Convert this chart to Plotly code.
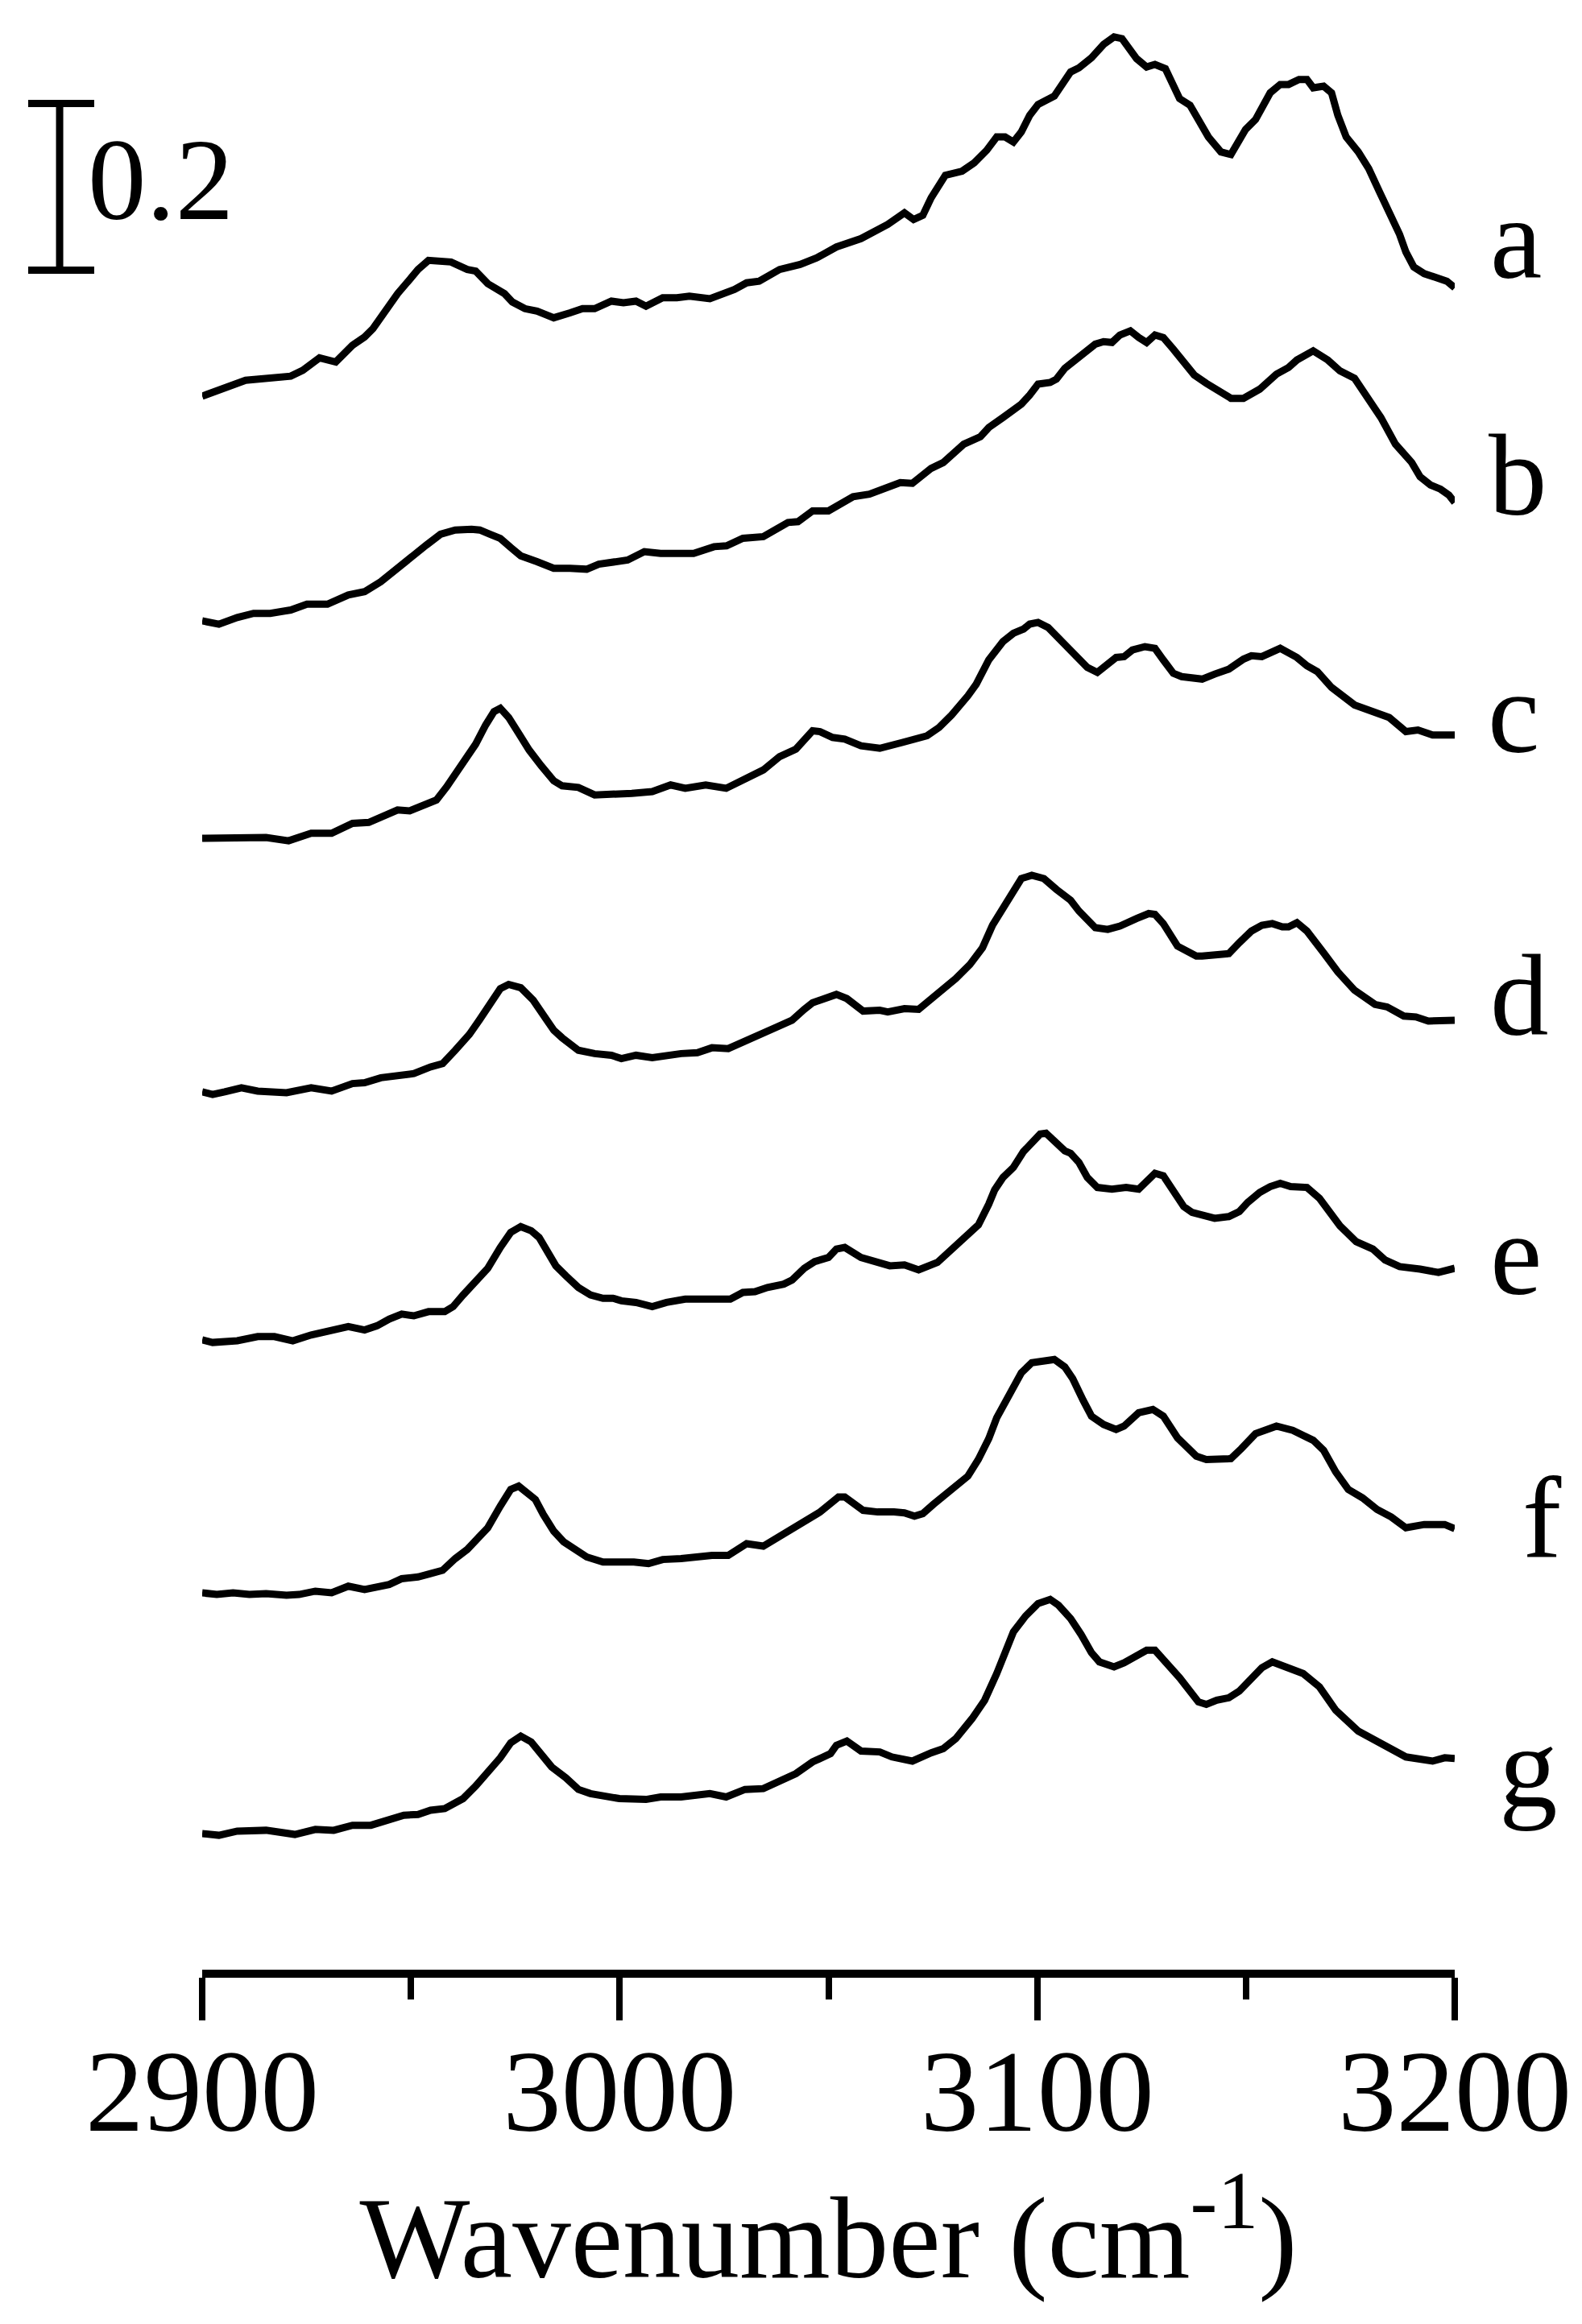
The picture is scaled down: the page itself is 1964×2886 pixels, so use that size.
import plotly.graph_objects as go

# ---------------- data ----------------
labels = ["a", "b", "c", "d", "e", "f", "g"]
offsets = [1.8928, 1.6232, 1.3623, 1.0580, 0.7604, 0.4570, 0.1681]
scale_bar_value = 0.2
x_ticks = [2900, 3000, 3100, 3200]

a_x = [2900, 2905.4, 2910.4, 2921.2, 2924.1, 2928.1, 2932.0, 2936.0, 2938.9, 2940.9, 2943.8, 2946.8, 2949.7, 2951.7, 2954.2, 2959.6, 2963.5, 2965.5, 2968.4, 2972.4, 2974.3, 2977.3, 2980.2, 2984.2, 2988.1, 2991.1, 2994.0, 2998.0, 3000.9, 3003.9, 3006.3, 3010.3, 3013.7, 3016.7, 3021.6, 3027.5, 3030.4, 3033.4, 3038.3, 3043.2, 3047.2, 3051.9, 3057.8, 3060.8, 3064.2, 3068.2, 3070.4, 3072.6, 3074.6, 3078.0, 3082.0, 3084.9, 3087.9, 3090.3, 3092.3, 3094.3, 3096.2, 3098.2, 3100.2, 3104.1, 3108.0, 3110.0, 3113.0, 3115.9, 3118.4, 3120.3, 3123.8, 3126.2, 3128.2, 3130.7, 3134.1, 3136.6, 3139.0, 3141.0, 3144.0, 3146.4, 3149.9, 3152.3, 3155.8, 3158.2, 3160.2, 3162.7, 3164.6, 3166.1, 3168.6, 3170.5, 3172.0, 3174.0, 3176.9, 3179.4, 3181.9, 3184.3, 3186.8, 3188.3, 3190.2, 3192.7, 3195.6, 3198.1, 3200]
a_y = [0.000, 0.009, 0.019, 0.024, 0.031, 0.046, 0.041, 0.061, 0.071, 0.081, 0.103, 0.123, 0.140, 0.152, 0.163, 0.161, 0.152, 0.150, 0.135, 0.123, 0.113, 0.105, 0.102, 0.094, 0.100, 0.105, 0.105, 0.114, 0.112, 0.114, 0.108, 0.118, 0.118, 0.120, 0.117, 0.128, 0.136, 0.138, 0.152, 0.158, 0.166, 0.179, 0.189, 0.197, 0.206, 0.220, 0.212, 0.217, 0.238, 0.265, 0.270, 0.280, 0.295, 0.311, 0.311, 0.305, 0.317, 0.337, 0.350, 0.360, 0.389, 0.394, 0.406, 0.422, 0.431, 0.429, 0.405, 0.395, 0.398, 0.393, 0.357, 0.349, 0.330, 0.311, 0.293, 0.290, 0.320, 0.332, 0.364, 0.374, 0.374, 0.380, 0.380, 0.370, 0.372, 0.364, 0.337, 0.311, 0.293, 0.273, 0.246, 0.221, 0.194, 0.173, 0.155, 0.147, 0.143, 0.138, 0.130]

b_x = [2900, 2904.0, 2908.4, 2912.3, 2916.3, 2921.2, 2925.1, 2930.0, 2935.0, 2938.9, 2942.8, 2946.8, 2950.7, 2953.7, 2957.1, 2960.6, 2964.5, 2966.5, 2968.9, 2971.4, 2973.9, 2976.3, 2980.2, 2982.2, 2984.2, 2988.1, 2992.1, 2995.0, 2998.0, 3001.9, 3005.9, 3009.8, 3017.7, 3022.6, 3025.6, 3029.5, 3034.4, 3037.3, 3040.3, 3042.7, 3046.2, 3050.0, 3052.9, 3055.9, 3059.8, 3062.8, 3065.7, 3067.2, 3070.1, 3072.6, 3074.6, 3077.5, 3080.0, 3082.4, 3086.4, 3088.4, 3091.8, 3096.2, 3098.2, 3100.2, 3103.1, 3104.6, 3106.6, 3109.0, 3112.0, 3113.9, 3115.9, 3117.9, 3119.8, 3122.3, 3124.3, 3126.2, 3128.2, 3130.2, 3132.6, 3135.1, 3137.6, 3140.5, 3144.0, 3146.4, 3149.4, 3153.3, 3157.3, 3160.2, 3162.2, 3166.1, 3169.6, 3172.5, 3176.0, 3178.9, 3182.3, 3185.8, 3189.7, 3191.7, 3194.2, 3196.6, 3198.6, 3200]
b_y = [0.000, -0.004, 0.004, 0.009, 0.009, 0.013, 0.020, 0.020, 0.031, 0.035, 0.047, 0.064, 0.078, 0.091, 0.104, 0.109, 0.110, 0.109, 0.104, 0.099, 0.088, 0.078, 0.071, 0.068, 0.063, 0.063, 0.062, 0.068, 0.071, 0.073, 0.083, 0.081, 0.081, 0.089, 0.090, 0.099, 0.101, 0.110, 0.118, 0.119, 0.132, 0.132, 0.141, 0.149, 0.152, 0.158, 0.164, 0.166, 0.165, 0.174, 0.183, 0.190, 0.201, 0.212, 0.221, 0.232, 0.244, 0.260, 0.271, 0.284, 0.286, 0.290, 0.303, 0.313, 0.324, 0.332, 0.335, 0.334, 0.343, 0.348, 0.340, 0.334, 0.343, 0.340, 0.326, 0.311, 0.295, 0.285, 0.273, 0.267, 0.267, 0.278, 0.296, 0.304, 0.313, 0.324, 0.313, 0.300, 0.291, 0.271, 0.244, 0.212, 0.190, 0.173, 0.163, 0.158, 0.151, 0.142]

c_x = [2900, 2905.4, 2908.4, 2915.3, 2920.7, 2926.1, 2931.0, 2936.0, 2939.9, 2944.8, 2946.8, 2949.7, 2952.7, 2956.1, 2958.6, 2960.6, 2963.5, 2965.5, 2967.9, 2969.9, 2971.4, 2973.4, 2975.8, 2978.3, 2981.2, 2984.2, 2986.2, 2990.1, 2994.0, 2999.9, 3002.9, 3007.8, 3012.2, 3015.7, 3020.6, 3025.5, 3029.5, 3034.4, 3038.3, 3042.2, 3046.2, 3048.0, 3051.0, 3053.9, 3057.8, 3062.3, 3067.7, 3073.6, 3076.5, 3079.5, 3083.4, 3085.4, 3088.4, 3091.8, 3094.3, 3096.7, 3098.2, 3100.2, 3102.6, 3105.1, 3110.0, 3112.0, 3114.4, 3116.9, 3118.9, 3120.8, 3122.8, 3125.8, 3128.2, 3130.2, 3132.6, 3134.6, 3139.5, 3142.5, 3145.9, 3149.4, 3151.3, 3153.8, 3158.2, 3162.2, 3164.6, 3167.1, 3170.5, 3176.0, 3179.9, 3184.3, 3188.3, 3191.2, 3194.7, 3200]
c_y = [0.000, 0.000, 0.002, 0.001, -0.003, 0.006, 0.006, 0.018, 0.019, 0.029, 0.034, 0.033, 0.039, 0.046, 0.062, 0.077, 0.097, 0.113, 0.136, 0.152, 0.156, 0.145, 0.126, 0.106, 0.087, 0.069, 0.063, 0.061, 0.052, 0.052, 0.054, 0.056, 0.064, 0.060, 0.064, 0.060, 0.069, 0.082, 0.098, 0.107, 0.129, 0.128, 0.121, 0.119, 0.111, 0.108, 0.115, 0.123, 0.133, 0.148, 0.171, 0.185, 0.214, 0.236, 0.246, 0.251, 0.257, 0.259, 0.253, 0.240, 0.217, 0.205, 0.199, 0.210, 0.217, 0.218, 0.226, 0.230, 0.228, 0.214, 0.198, 0.194, 0.191, 0.197, 0.203, 0.215, 0.219, 0.218, 0.228, 0.217, 0.207, 0.200, 0.181, 0.160, 0.154, 0.145, 0.128, 0.130, 0.124, 0.124]

d_x = [2900, 2902.5, 2905.4, 2909.4, 2913.3, 2920.2, 2926.1, 2931.0, 2936.0, 2938.9, 2942.8, 2946.8, 2950.7, 2954.7, 2957.6, 2960.6, 2964.0, 2966.5, 2969.4, 2971.4, 2973.4, 2976.3, 2979.3, 2981.2, 2984.2, 2986.2, 2990.1, 2994.0, 2998.0, 3000.4, 3003.9, 3007.8, 3010.8, 3014.7, 3018.6, 3022.1, 3026.0, 3030.4, 3034.4, 3038.3, 3041.3, 3044.2, 3046.2, 3051.9, 3054.4, 3058.3, 3062.3, 3064.2, 3068.2, 3071.6, 3075.1, 3077.5, 3080.5, 3083.9, 3086.9, 3089.3, 3091.8, 3094.3, 3096.2, 3098.7, 3101.6, 3104.6, 3108.0, 3110.0, 3113.9, 3116.9, 3119.8, 3123.8, 3126.7, 3128.2, 3130.2, 3133.6, 3138.1, 3139.5, 3142.5, 3145.9, 3148.4, 3151.3, 3153.8, 3156.3, 3158.7, 3160.2, 3162.2, 3164.6, 3168.6, 3172.0, 3176.0, 3180.9, 3183.8, 3187.8, 3190.7, 3193.7, 3200]
d_y = [0.000, -0.003, 0.000, 0.005, 0.001, -0.001, 0.005, 0.001, 0.010, 0.011, 0.017, 0.020, 0.022, 0.030, 0.034, 0.050, 0.069, 0.087, 0.108, 0.124, 0.129, 0.125, 0.110, 0.095, 0.074, 0.065, 0.050, 0.046, 0.044, 0.040, 0.044, 0.041, 0.044, 0.046, 0.047, 0.053, 0.052, 0.062, 0.069, 0.079, 0.086, 0.099, 0.107, 0.117, 0.112, 0.097, 0.098, 0.096, 0.100, 0.099, 0.113, 0.122, 0.136, 0.153, 0.173, 0.200, 0.220, 0.242, 0.256, 0.260, 0.256, 0.243, 0.230, 0.217, 0.197, 0.195, 0.199, 0.208, 0.214, 0.213, 0.202, 0.175, 0.163, 0.163, 0.165, 0.166, 0.179, 0.193, 0.200, 0.202, 0.198, 0.198, 0.203, 0.193, 0.167, 0.144, 0.122, 0.105, 0.102, 0.091, 0.090, 0.085, 0.086]

e_x = [2900, 2902.5, 2908.4, 2913.3, 2917.3, 2921.7, 2926.1, 2930.5, 2935.0, 2938.9, 2941.9, 2944.8, 2947.8, 2950.7, 2954.2, 2958.1, 2960.1, 2962.5, 2965.5, 2968.4, 2971.4, 2973.9, 2976.3, 2978.8, 2980.7, 2982.2, 2984.7, 2987.1, 2990.1, 2993.0, 2996.0, 2998.4, 3000.4, 3003.9, 3007.8, 3011.2, 3015.7, 3020.6, 3023.6, 3026.5, 3029.5, 3032.4, 3035.4, 3039.3, 3041.3, 3044.2, 3046.7, 3050.0, 3051.9, 3053.9, 3057.8, 3060.8, 3062.8, 3064.7, 3068.2, 3071.6, 3076.1, 3079.5, 3083.4, 3085.9, 3088.4, 3089.8, 3091.8, 3094.3, 3096.7, 3099.2, 3100.7, 3102.1, 3104.1, 3106.6, 3108.0, 3110.0, 3112.0, 3114.4, 3117.9, 3121.3, 3124.3, 3126.7, 3128.2, 3130.2, 3132.6, 3135.1, 3137.1, 3142.5, 3145.9, 3148.4, 3150.4, 3153.3, 3155.8, 3158.2, 3160.7, 3164.6, 3167.6, 3170.1, 3172.5, 3176.4, 3180.4, 3183.3, 3186.8, 3191.7, 3196.1, 3200]
e_y = [0.000, -0.003, -0.001, 0.004, 0.004, -0.001, 0.006, 0.010, 0.016, 0.012, 0.017, 0.025, 0.031, 0.029, 0.034, 0.034, 0.040, 0.054, 0.070, 0.086, 0.111, 0.129, 0.136, 0.131, 0.123, 0.109, 0.089, 0.077, 0.063, 0.054, 0.050, 0.050, 0.047, 0.045, 0.040, 0.045, 0.049, 0.049, 0.048, 0.049, 0.057, 0.058, 0.063, 0.067, 0.072, 0.086, 0.094, 0.099, 0.109, 0.111, 0.099, 0.095, 0.093, 0.089, 0.090, 0.084, 0.093, 0.109, 0.126, 0.138, 0.163, 0.180, 0.195, 0.207, 0.226, 0.241, 0.247, 0.248, 0.238, 0.227, 0.224, 0.213, 0.195, 0.183, 0.181, 0.183, 0.181, 0.192, 0.200, 0.197, 0.179, 0.160, 0.153, 0.146, 0.148, 0.154, 0.165, 0.177, 0.184, 0.188, 0.184, 0.183, 0.170, 0.154, 0.137, 0.118, 0.109, 0.096, 0.088, 0.085, 0.081, 0.086]

f_x = [2900, 2903.5, 2907.4, 2911.3, 2915.3, 2920.2, 2923.2, 2927.1, 2931.0, 2933.0, 2935.0, 2938.9, 2942.8, 2944.8, 2947.8, 2951.7, 2954.7, 2957.6, 2960.6, 2963.5, 2966.5, 2968.4, 2971.4, 2973.9, 2975.8, 2977.8, 2979.8, 2981.7, 2984.2, 2986.6, 2989.1, 2992.1, 2996.0, 2999.9, 3003.4, 3006.9, 3010.3, 3014.7, 3017.7, 3022.1, 3026.0, 3028.5, 3030.4, 3034.4, 3038.3, 3042.2, 3046.2, 3048.0, 3052.4, 3053.9, 3058.3, 3061.8, 3065.7, 3068.2, 3070.6, 3072.6, 3075.1, 3078.5, 3083.4, 3085.9, 3088.4, 3090.3, 3093.3, 3096.2, 3098.7, 3101.6, 3104.1, 3106.6, 3108.5, 3111.0, 3113.0, 3115.9, 3118.9, 3120.8, 3124.3, 3127.7, 3130.2, 3133.6, 3138.1, 3140.5, 3146.4, 3148.9, 3152.3, 3157.3, 3161.2, 3166.1, 3168.6, 3171.5, 3174.5, 3177.9, 3181.4, 3184.8, 3188.3, 3192.7, 3197.6, 3200]
f_y = [0.000, -0.002, 0.000, -0.002, -0.001, -0.003, -0.002, 0.002, 0.000, 0.003, 0.008, 0.004, 0.009, 0.010, 0.017, 0.019, 0.023, 0.027, 0.041, 0.052, 0.068, 0.078, 0.104, 0.124, 0.128, 0.121, 0.112, 0.094, 0.074, 0.061, 0.052, 0.043, 0.037, 0.038, 0.037, 0.035, 0.040, 0.041, 0.043, 0.045, 0.045, 0.052, 0.059, 0.056, 0.068, 0.078, 0.091, 0.097, 0.115, 0.115, 0.099, 0.097, 0.097, 0.096, 0.092, 0.095, 0.106, 0.119, 0.140, 0.160, 0.185, 0.210, 0.237, 0.264, 0.276, 0.279, 0.280, 0.271, 0.257, 0.231, 0.212, 0.202, 0.196, 0.200, 0.216, 0.220, 0.212, 0.186, 0.164, 0.160, 0.161, 0.173, 0.191, 0.200, 0.195, 0.183, 0.171, 0.145, 0.124, 0.114, 0.100, 0.091, 0.078, 0.082, 0.082, 0.077]

g_x = [2900, 2904.0, 2908.4, 2915.3, 2922.2, 2927.1, 2931.5, 2936.0, 2940.4, 2944.8, 2948.3, 2951.7, 2954.7, 2958.1, 2962.5, 2965.5, 2968.4, 2971.4, 2973.9, 2976.3, 2978.8, 2981.2, 2983.7, 2987.1, 2990.1, 2993.0, 2999.9, 3006.3, 3009.8, 3014.7, 3021.6, 3025.5, 3030.0, 3034.4, 3038.3, 3042.2, 3046.2, 3050.5, 3051.9, 3054.4, 3057.8, 3062.3, 3065.2, 3070.1, 3074.6, 3077.5, 3080.5, 3084.4, 3087.4, 3090.3, 3094.3, 3097.2, 3100.2, 3103.1, 3105.1, 3108.0, 3110.5, 3113.0, 3114.9, 3118.4, 3120.8, 3123.8, 3126.2, 3128.2, 3132.2, 3134.1, 3138.6, 3140.5, 3143.0, 3145.9, 3148.4, 3151.3, 3153.8, 3156.3, 3158.7, 3161.2, 3163.7, 3167.6, 3171.5, 3176.9, 3181.9, 3188.3, 3194.7, 3197.6, 3200]
g_y = [0.000, -0.002, 0.003, 0.004, -0.001, 0.005, 0.004, 0.010, 0.010, 0.016, 0.022, 0.023, 0.028, 0.030, 0.042, 0.057, 0.073, 0.091, 0.109, 0.117, 0.110, 0.095, 0.080, 0.067, 0.053, 0.048, 0.042, 0.041, 0.044, 0.044, 0.048, 0.044, 0.053, 0.054, 0.064, 0.072, 0.086, 0.096, 0.106, 0.111, 0.099, 0.098, 0.092, 0.087, 0.097, 0.102, 0.114, 0.138, 0.160, 0.192, 0.242, 0.261, 0.276, 0.281, 0.274, 0.258, 0.239, 0.217, 0.206, 0.200, 0.205, 0.214, 0.220, 0.220, 0.199, 0.187, 0.158, 0.155, 0.160, 0.163, 0.171, 0.187, 0.199, 0.206, 0.201, 0.197, 0.192, 0.176, 0.148, 0.123, 0.109, 0.092, 0.087, 0.091, 0.090]

# ---------------- figure ----------------
FONT = "Liberation Serif"
FS = 145
spectra_x = [a_x, b_x, c_x, d_x, e_x, f_x, g_x]
spectra_y = [a_y, b_y, c_y, d_y, e_y, f_y, g_y]

fig = go.Figure()
for name, xs, ys, off in zip(labels, spectra_x, spectra_y, offsets):
    assert len(xs) == len(ys), name
    fig.add_trace(go.Scatter(
        x=xs, y=[v + off for v in ys], mode="lines", name=name,
        line=dict(color="black", width=9), showlegend=False,
        hoverinfo="skip"))

# curve labels (right of each spectrum)
label_x = [1.0490, 1.0502, 1.0470, 1.0516, 1.0490, 1.0696, 1.0590]
label_y = [2.0821, 1.7981, 1.5130, 1.1739, 0.8628, 0.5478, 0.2483]
for t, lx, ly in zip(labels, label_x, label_y):
    fig.add_annotation(text=t, x=lx, y=ly, xref="paper", yref="y",
                       showarrow=False, xanchor="center", yanchor="middle",
                       font=dict(family=FONT, size=FS, color="black"))

# absorbance scale bar (0.2)
bar_y0 = 2.044
bar_x = -0.1138
fig.add_shape(type="line", xref="paper", yref="y", x0=bar_x, x1=bar_x,
              y0=bar_y0, y1=bar_y0 + scale_bar_value,
              line=dict(color="black", width=9))
for yy in (bar_y0, bar_y0 + scale_bar_value):
    fig.add_shape(type="line", xref="paper", yref="y", x0=-0.1389, x1=-0.0862,
                  y0=yy, y1=yy, line=dict(color="black", width=9))
fig.add_annotation(text=str(scale_bar_value), x=-0.0925, y=2.153,
                   xref="paper", yref="y", showarrow=False,
                   xanchor="left", yanchor="middle",
                   font=dict(family=FONT, size=FS, color="black"))

fig.update_layout(
    width=1964, height=2886,
    margin=dict(l=243, r=166, t=0, b=448, pad=0),
    paper_bgcolor="white", plot_bgcolor="white",
    font=dict(family=FONT, color="black"),
    xaxis=dict(
        range=[2900, 3200], tickvals=x_ticks, ticktext=[str(v) for v in x_ticks],
        showline=True, linewidth=10, linecolor="black",
        ticks="outside", ticklen=53, tickwidth=8, tickcolor="black",
        ticklabelstandoff=-37,
        minor=dict(ticks="outside", ticklen=27, tickwidth=8, tickcolor="black",
                   tickvals=[2950, 3050, 3150]),
        tickfont=dict(family=FONT, size=FS, color="black"),
        showgrid=False, zeroline=False,
        title=dict(text="Wavenumber (cm<sup>-1</sup>)",
                   font=dict(family=FONT, size=FS, color="black"),
                   standoff=32),
    ),
    yaxis=dict(range=[0.00483, 2.3604], visible=False, showgrid=False,
               zeroline=False),
)

fig.write_html("out.html")
